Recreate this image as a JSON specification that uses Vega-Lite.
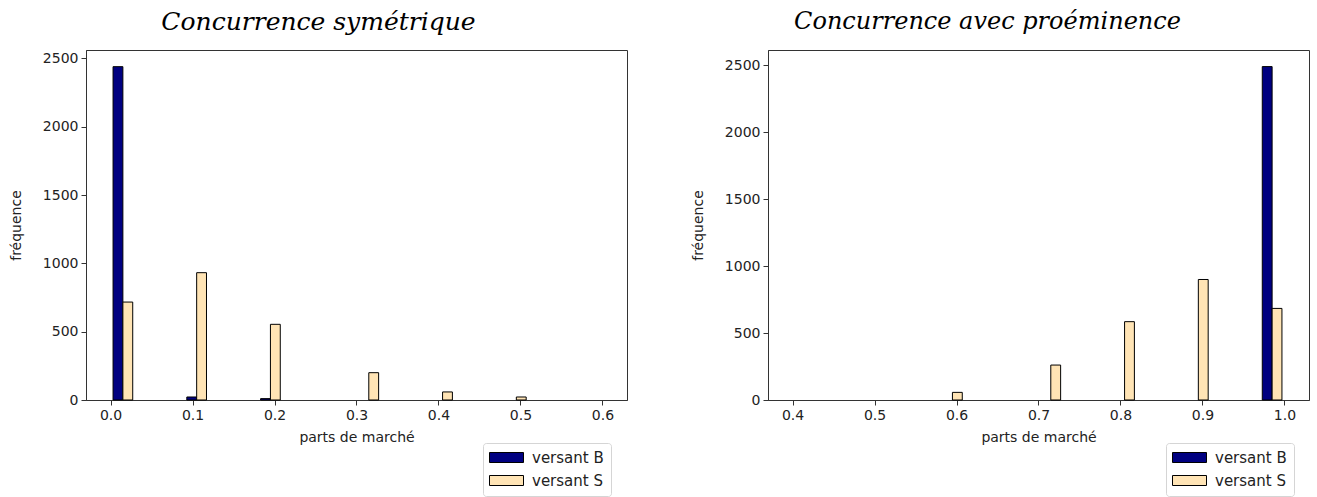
{
  "$schema": "https://vega.github.io/schema/vega-lite/v6.json",
  "padding": {"left": 8, "top": 9, "right": 5, "bottom": 0},
  "background": "white",
  "datasets": {
    "sym": [
      {"series": "versant B", "start": 0.00, "end": 0.03, "count": 2440},
      {"series": "versant B", "start": 0.09, "end": 0.12, "count": 22},
      {"series": "versant B", "start": 0.18, "end": 0.21, "count": 10},
      {"series": "versant S", "start": 0.00, "end": 0.03, "count": 717},
      {"series": "versant S", "start": 0.09, "end": 0.12, "count": 932},
      {"series": "versant S", "start": 0.18, "end": 0.21, "count": 554},
      {"series": "versant S", "start": 0.30, "end": 0.33, "count": 200},
      {"series": "versant S", "start": 0.39, "end": 0.42, "count": 59},
      {"series": "versant S", "start": 0.48, "end": 0.51, "count": 22}
    ],
    "prom": [
      {"series": "versant B", "start": 0.97, "end": 1.00, "count": 2490},
      {"series": "versant S", "start": 0.58, "end": 0.61, "count": 57},
      {"series": "versant S", "start": 0.70, "end": 0.73, "count": 261},
      {"series": "versant S", "start": 0.79, "end": 0.82, "count": 585},
      {"series": "versant S", "start": 0.88, "end": 0.91, "count": 900},
      {"series": "versant S", "start": 0.97, "end": 1.00, "count": 684}
    ]
  },
  "spacing": 62,
  "resolve": {"scale": {"color": "independent", "x": "independent", "y": "independent"}},
  "hconcat": [
    {
      "width": 541,
      "height": 350,
      "title": {"text": "Concurrence symétrique", "anchor": "middle", "dx": -38, "font": "DejaVu Serif", "fontStyle": "italic", "fontWeight": "normal", "fontSize": 25, "color": "black", "offset": 15},
      "data": {"name": "sym"},
      "transform": [
        {"calculate": "datum.start + (datum.end - datum.start) * (datum.series === 'versant B' ? 0.1 : 0.5)", "as": "lo"},
        {"calculate": "datum.lo + (datum.end - datum.start) * 0.4", "as": "hi"}
      ],
      "mark": {"type": "bar", "stroke": "black", "strokeWidth": 1},
      "encoding": {
        "x": {"field": "lo", "type": "quantitative", "scale": {"domain": [-0.03, 0.63], "nice": false, "zero": false}, "axis": {"values": [0, 0.1, 0.2, 0.3, 0.4, 0.5, 0.6], "format": ".1f", "title": "parts de marché"}},
        "x2": {"field": "hi"},
        "y": {"field": "count", "type": "quantitative", "scale": {"domain": [0, 2562], "nice": false}, "axis": {"values": [0, 500, 1000, 1500, 2000, 2500], "format": "d", "title": "fréquence"}},
        "y2": {"datum": 0},
        "color": {"field": "series", "type": "nominal", "scale": {"domain": ["versant B", "versant S"], "range": ["#000080", "#FFE4B5"]},
          "legend": {"title": null, "orient": "none", "legendX": 397, "legendY": 393}}
      }
    },
    {
      "width": 541,
      "height": 350,
      "title": {"text": "Concurrence avec proéminence", "anchor": "middle", "dx": -51, "font": "DejaVu Serif", "fontStyle": "italic", "fontWeight": "normal", "fontSize": 24, "color": "black", "offset": 16},
      "data": {"name": "prom"},
      "transform": [
        {"calculate": "datum.start + (datum.end - datum.start) * (datum.series === 'versant B' ? 0.1 : 0.5)", "as": "lo"},
        {"calculate": "datum.lo + (datum.end - datum.start) * 0.4", "as": "hi"}
      ],
      "mark": {"type": "bar", "stroke": "black", "strokeWidth": 1},
      "encoding": {
        "x": {"field": "lo", "type": "quantitative", "scale": {"domain": [0.37, 1.03], "nice": false, "zero": false}, "axis": {"values": [0.4, 0.5, 0.6, 0.7, 0.8, 0.9, 1.0], "format": ".1f", "title": "parts de marché"}},
        "x2": {"field": "hi"},
        "y": {"field": "count", "type": "quantitative", "scale": {"domain": [0, 2614], "nice": false}, "axis": {"values": [0, 500, 1000, 1500, 2000, 2500], "format": "d", "title": "fréquence"}},
        "y2": {"datum": 0},
        "color": {"field": "series", "type": "nominal", "scale": {"domain": ["versant B", "versant S"], "range": ["#000080", "#FFE4B5"]},
          "legend": {"title": null, "orient": "none", "legendX": 398, "legendY": 393}}
      }
    }
  ],
  "config": {
    "font": "DejaVu Sans",
    "view": {"stroke": "#333", "strokeWidth": 1},
    "axis": {"labelFont": "DejaVu Sans", "labelFontSize": 14, "titleFont": "DejaVu Sans", "titleFontSize": 14, "titleFontWeight": "normal", "labelColor": "#222", "titleColor": "#222", "tickColor": "#333", "domainColor": "#333", "tickSize": 5, "grid": false, "labelPadding": 3},
    "axisX": {"titlePadding": 8},
    "axisY": {"titlePadding": 19},
    "legend": {"symbolType": "M-3.4,-1H3.4V1H-3.4Z", "symbolSize": 100, "symbolOffset": 9, "symbolStrokeColor": "black", "symbolStrokeWidth": 1, "symbolOpacity": 1, "strokeColor": "#d5d5d5", "fillColor": "white", "padding": 7, "cornerRadius": 3, "labelFont": "DejaVu Sans", "labelFontSize": 15, "labelColor": "#222", "rowPadding": 7, "labelOffset": 18}
  }
}
